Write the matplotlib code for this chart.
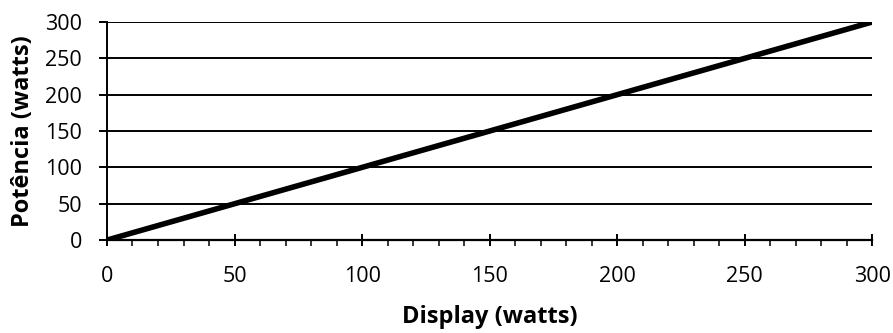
import matplotlib.pyplot as plt
from matplotlib.ticker import MultipleLocator

# data: power equals display reading
display_watts = [0, 50, 100, 150, 200, 250, 300]
potencia_watts = [0, 50, 100, 150, 200, 250, 300]
x_ticks = [0, 50, 100, 150, 200, 250, 300]
y_ticks = [0, 50, 100, 150, 200, 250, 300]

plt.rcParams['font.family'] = ['Open Sans', 'DejaVu Sans']

fig = plt.figure(figsize=(8.93, 3.33), dpi=100)
ax = fig.add_axes([0.1198, 0.279, 0.857, 0.655])

ax.plot(display_watts, potencia_watts, color='black', linewidth=4.0,
        solid_capstyle='butt', zorder=3)

ax.set_xlim(0, 300)
ax.set_ylim(0, 300)
ax.set_xticks(x_ticks)
ax.set_yticks(y_ticks)
ax.xaxis.set_minor_locator(MultipleLocator(10))

for v in y_ticks[1:]:
    ax.axhline(v, color='black', linewidth=1.4, zorder=1)

ax.spines['top'].set_visible(False)
ax.spines['right'].set_visible(False)
ax.spines['left'].set_linewidth(1.4)
ax.spines['bottom'].set_linewidth(1.6)

ax.tick_params(axis='x', which='major', direction='inout', length=9, width=1.4,
               pad=14, labelsize=15.5)
ax.tick_params(axis='x', which='minor', direction='out', length=4, width=1.1)
ax.tick_params(axis='y', which='major', direction='out', length=6, width=1.4,
               pad=12, labelsize=15.5)

ax.set_xlabel('Display (watts)', fontsize=17, fontweight='bold', labelpad=13)
ax.set_ylabel('Potência (watts)', fontsize=17, fontweight='bold', labelpad=7)

plt.savefig('out.png', dpi=100)
